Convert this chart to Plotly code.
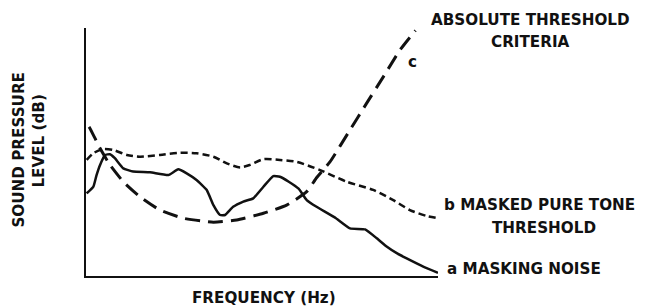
import plotly.graph_objects as go

# Relative frequency (0-100) and level (0-100)
noise_x = [0.2, 2.1, 3.0, 4.0, 5.4, 6.8, 8.2, 10.6, 13.4, 18.2, 23.4, 26.2, 28.6, 31.4, 34.3,
           36.2, 38.1, 39.5, 41.8, 44.7, 47.5, 50.4, 53.2, 55.1, 57.6, 60.4, 62.7, 65.5,
           71.0, 75.0, 79.3, 82.6, 85.5, 88.4, 91.1, 95.8, 100.0]
noise_y = [33.3, 36.0, 40.7, 44.8, 48.8, 49.1, 47.5, 43.4, 42.1, 41.8, 40.7, 43.0, 41.4, 38.7, 34.7,
           28.6, 24.6, 24.6, 27.9, 30.0, 31.3, 36.0, 40.3, 40.0, 38.0, 35.2, 30.6, 27.9,
           23.3, 19.2, 18.8, 15.2, 11.8, 9.1, 7.1, 3.8, 1.3]

masked_x = [0.2, 2.1, 4.9, 7.8, 11.6, 15.3, 21.0, 26.7, 31.4, 36.2, 40.0, 43.8, 46.6, 50.4,
            55.1, 59.9, 66.5, 74.1, 81.6, 87.3, 92.0, 96.8, 100.0]
masked_y = [46.8, 49.5, 51.2, 50.8, 48.8, 48.1, 48.8, 49.7, 49.5, 48.1, 45.4, 43.8, 44.8, 47.1,
            46.8, 46.0, 42.7, 38.0, 34.7, 30.6, 26.6, 24.2, 23.3]

absolute_x = [0.85, 1.1, 4.0, 6.8, 10.6, 15.3, 21.0, 27.6, 36.2, 42.8, 50.4, 57.0, 62.7, 65.5,
              69.3, 75.0, 79.7, 84.5, 89.2, 93.6]
absolute_y = [60.1, 59.6, 51.5, 44.8, 38.0, 32.0, 26.6, 23.3, 21.7, 22.6, 25.3, 28.6, 34.0, 39.6,
              46.0, 58.9, 69.6, 80.4, 91.1, 99.0]

INK = "#111111"
FONT = "DejaVu Sans"

fig = go.Figure()
fig.add_trace(go.Scatter(x=noise_x, y=noise_y, mode="lines",
                         line=dict(color=INK, width=2.5, shape="spline", smoothing=0.4)))
fig.add_trace(go.Scatter(x=masked_x, y=masked_y, mode="lines",
                         line=dict(color=INK, width=2.5, dash="7px,4px", shape="spline", smoothing=0.7)))
fig.add_trace(go.Scatter(x=absolute_x, y=absolute_y, mode="lines",
                         line=dict(color=INK, width=3, dash="15px,8px", shape="spline", smoothing=0.5)))

def label(text, x, y, xanchor="center", size=15.2, angle=0):
    fig.add_annotation(text=f"<b>{text}</b>", x=x, y=y, xref="paper", yref="paper",
                       xanchor=xanchor, yanchor="middle", showarrow=False, textangle=angle,
                       font=dict(family=FONT, size=size, color=INK))

label("ABSOLUTE THRESHOLD", 1.264, 1.032)
label("CRITERIA", 1.264, 0.942)
label("c", 0.928, 0.864)
label("b MASKED PURE TONE", 1.0105, 0.286, xanchor="left")
label("THRESHOLD", 1.301, 0.192)
label("a MASKING NOISE", 1.020, 0.029, xanchor="left")
label("FREQUENCY (Hz)", 0.506, -0.089)
label("SOUND PRESSURE", -0.193, 0.510, angle=-90)
label("LEVEL (dB)", -0.1335, 0.542, angle=-90)

axis_common = dict(showgrid=False, zeroline=False, showticklabels=False, ticks="",
                   showline=True, linecolor=INK, linewidth=2, fixedrange=True)
fig.update_layout(
    width=645, height=306,
    margin=dict(l=86, r=207, t=28, b=30),
    paper_bgcolor="white", plot_bgcolor="white",
    showlegend=False,
    xaxis=dict(range=[0, 100], **axis_common),
    yaxis=dict(range=[0, 100], **axis_common),
)
fig.write_html("out.html", config={"displayModeBar": False},
               post_script="document.body.style.margin='0';document.body.style.overflow='hidden';")
